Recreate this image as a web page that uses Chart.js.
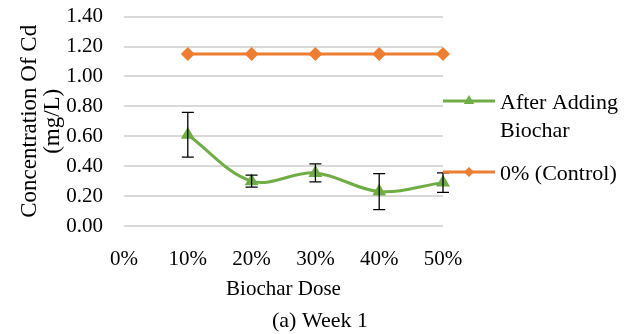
<!DOCTYPE html>
<html>
<head>
<meta charset="utf-8">
<script src="https://cdn.jsdelivr.net/npm/chart.js@4/dist/chart.umd.min.js"></script>
<style>
  html, body { margin: 0; padding: 0; background: #fff; }
  #wrap { width: 640px; height: 334px; position: relative; }
</style>
</head>
<body>
<div id="wrap"><canvas id="chart"></canvas></div>
<script>
// данные графика
const doseLabels = ['0%', '10%', '20%', '30%', '40%', '50%'];
const afterBiochar = [null, 0.61, 0.30, 0.355, 0.23, 0.29];
const afterBiocharErr = [null, 0.15, 0.04, 0.06, 0.12, 0.065];
const control = [null, 1.15, 1.15, 1.15, 1.15, 1.15];

const GREEN = '#70ad47';
const ORANGE = '#ed7d31';
const FONT = 'Liberation Serif, Times New Roman, serif';

// усы погрешностей
const errorBars = {
  id: 'errorBars',
  afterDatasetsDraw(chart) {
    const { ctx, scales } = chart;
    const meta = chart.getDatasetMeta(0);
    ctx.save();
    ctx.strokeStyle = '#000';
    ctx.lineWidth = 1.3;
    meta.data.forEach((pt, i) => {
      const v = afterBiochar[i], e = afterBiocharErr[i];
      if (v == null) return;
      const x = pt.x;
      const yTop = scales.y.getPixelForValue(v + e);
      const yBot = scales.y.getPixelForValue(v - e);
      ctx.beginPath();
      ctx.moveTo(x, yTop); ctx.lineTo(x, yBot);
      ctx.moveTo(x - 6, yTop); ctx.lineTo(x + 6, yTop);
      ctx.moveTo(x - 6, yBot); ctx.lineTo(x + 6, yBot);
      ctx.stroke();
    });
    ctx.restore();
  }
};

// легенда справа и подпись снизу
const sideLegend = {
  id: 'sideLegend',
  afterDraw(chart) {
    const { ctx, chartArea } = chart;
    const x0 = chartArea.right;
    const items = [
      { text: ['After Adding', 'Biochar'], color: GREEN, style: 'triangle', r: 6, y: 101 },
      { text: ['0% (Control)'], color: ORANGE, style: 'rectRot', r: 5, y: 172 }
    ];
    ctx.save();
    ctx.font = '22px ' + FONT;
    ctx.textBaseline = 'middle';
    items.forEach(it => {
      ctx.strokeStyle = it.color;
      ctx.lineWidth = 3;
      ctx.beginPath();
      ctx.moveTo(x0, it.y); ctx.lineTo(x0 + 52, it.y);
      ctx.stroke();
      ctx.fillStyle = it.color;
      Chart.helpers.drawPoint(ctx, { pointStyle: it.style, radius: it.r, borderWidth: 0 }, x0 + 26, it.y);
      ctx.fillStyle = '#000';
      it.text.forEach((t, k) => ctx.fillText(t, x0 + 57, it.y + 2 + k * 28));
    });
    ctx.textAlign = 'center';
    ctx.fillText('(a) Week 1', chart.width / 2, 321);
    ctx.restore();
  }
};

new Chart(document.getElementById('chart'), {
  type: 'line',
  data: {
    labels: doseLabels,
    datasets: [
      {
        label: 'After Adding Biochar',
        data: afterBiochar,
        borderColor: GREEN,
        backgroundColor: GREEN,
        borderWidth: 3,
        tension: 0.35,
        pointStyle: 'triangle',
        pointRadius: 8,
        pointBorderWidth: 0
      },
      {
        label: '0% (Control)',
        data: control,
        borderColor: ORANGE,
        backgroundColor: ORANGE,
        borderWidth: 3,
        pointStyle: 'rectRot',
        pointRadius: 7,
        pointBorderWidth: 0
      }
    ]
  },
  options: {
    responsive: true,
    maintainAspectRatio: false,
    animation: false,
    layout: { padding: { top: 0, right: 197, left: 0, bottom: 30 } },
    plugins: {
      legend: { display: false },
      tooltip: { enabled: false }
    },
    scales: {
      x: {
        offset: false,
        grid: { display: false },
        border: { display: false },
        ticks: {
          color: '#000', font: { family: FONT, size: 21 }, padding: 13,
          maxRotation: 0, autoSkip: false
        },
        title: {
          display: true, text: 'Biochar Dose', color: '#000',
          font: { family: FONT, size: 21 }, padding: { top: 6, bottom: 2 }
        },
        afterFit(s) { s.height = 78; }
      },
      y: {
        min: 0, max: 1.4,
        grid: { color: '#d9d9d9', lineWidth: 2, drawTicks: true, tickLength: 17, tickColor: 'rgba(0,0,0,0)' },
        border: { display: false },
        ticks: {
          stepSize: 0.2, color: '#000', padding: 4, autoSkip: false,
          font: { family: FONT, size: 21 },
          callback: v => v.toFixed(2)
        },
        title: {
          display: true, text: ['Concentration Of Cd', '(mg/L)'], color: '#000',
          font: { family: FONT, size: 23, lineHeight: 1.0 }, padding: { top: 18, bottom: 0 }
        },
        afterFit(s) { s.width = 124; }
      }
    }
  },
  plugins: [errorBars, sideLegend]
});
</script>
</body>
</html>
